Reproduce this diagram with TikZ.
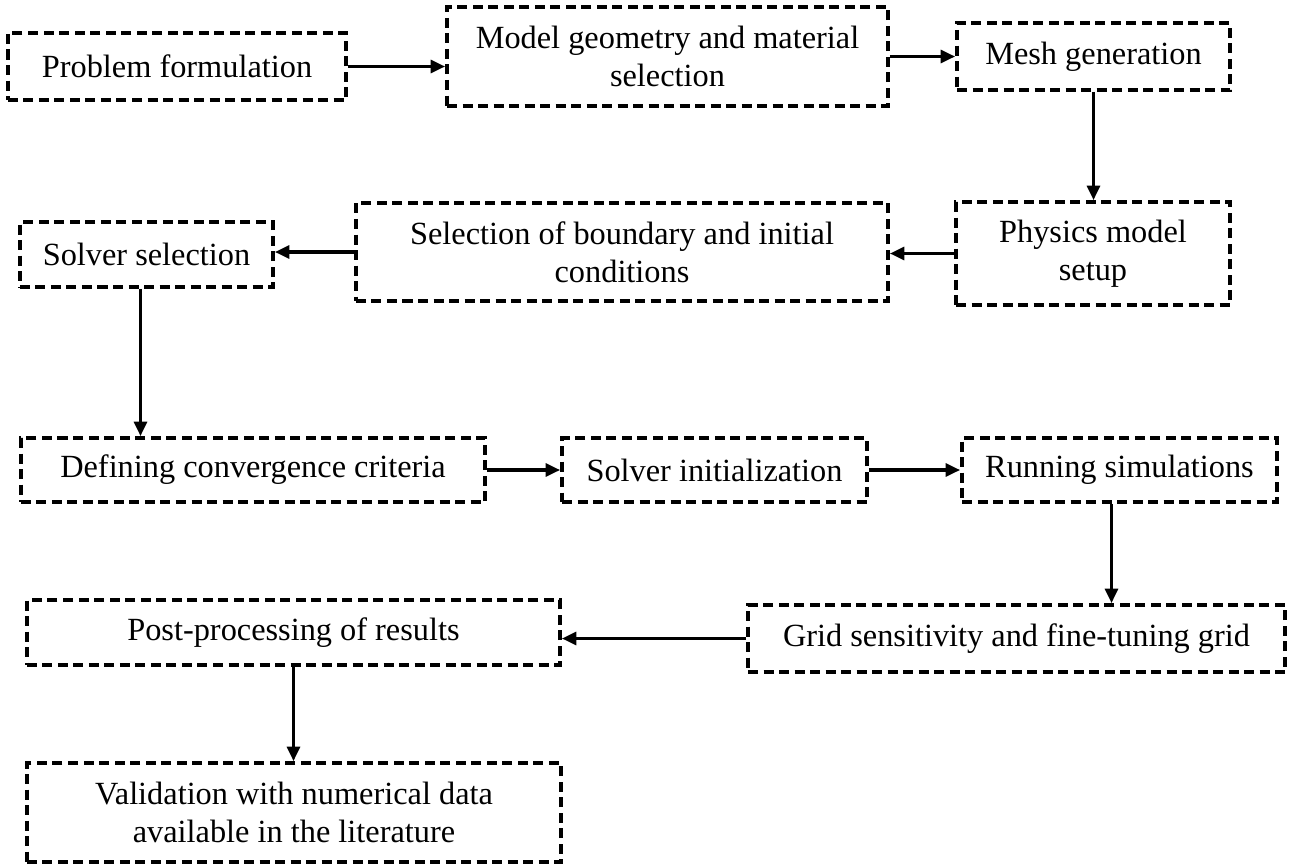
\documentclass[tikz,border=0pt]{standalone}
\usepackage{fontspec}
\setmainfont{Liberation Serif}
\usetikzlibrary{arrows.meta}

\tikzset{
  stepbox/.style={draw, line width=2.2pt, dash pattern=on 2mm off 1.1mm,
    align=center, inner sep=0pt, font=\fontsize{18.4}{21.8}\selectfont},
  arr/.style={line width=1.8pt, -{Triangle[length=2.9mm,width=2.6mm]}}
}

\begin{document}
\begin{tikzpicture}[x=0.2mm,y=-0.2mm]
  \useasboundingbox (0,0) rectangle (1290,864);
  % Row 1
  \node[stepbox, minimum width=67.6mm, minimum height=13.4mm] (prob) at (177,66.5) {Problem formulation};
  \node[stepbox, minimum width=88.2mm, minimum height=19.8mm] (model) at (667.5,56.5) {Model geometry and material\\selection};
  \node[stepbox, minimum width=54.6mm, minimum height=13.4mm] (mesh) at (1093.5,56.5) {Mesh generation};
  % Row 2
  \node[stepbox, minimum width=54.8mm, minimum height=20.6mm] (phys) at (1093,253.5) {Physics model\\setup};
  \node[stepbox, minimum width=106.4mm, minimum height=19.6mm] (bound) at (622,252) {Selection of boundary and initial\\conditions};
  \node[stepbox, minimum width=50.6mm, minimum height=13mm] (solsel) at (146.5,254.5) {Solver selection};
  % Row 3
  \node[stepbox, minimum width=92.8mm, minimum height=12.8mm] (conv) at (253,470) {Defining convergence criteria};
  \node[stepbox, minimum width=61mm, minimum height=12.8mm] (init) at (714.5,470) {Solver initialization};
  \node[stepbox, minimum width=63mm, minimum height=12.8mm] (run) at (1119.5,470) {Running simulations};
  % Row 4
  \node[stepbox, minimum width=107.4mm, minimum height=13.4mm] (grid) at (1016.5,638.5) {Grid sensitivity and fine-tuning grid};
  \node[stepbox, minimum width=106.6mm, minimum height=13mm] (post) at (293.5,632.5) {Post-processing of results};
  % Row 5
  \node[stepbox, minimum width=106.8mm, minimum height=19.8mm] (valid) at (294,812.5) {Validation with numerical data\\available in the literature};
  % Connectors
  \draw[arr] (prob.east) -- (prob.east -| model.west);
  \draw[arr] (model.east |- mesh.west) -- (mesh.west);
  \draw[arr] (mesh.south) -- (mesh.south |- phys.north);
  \draw[arr] (phys.west) -- (phys.west -| bound.east);
  \draw[arr] (bound.west) -- (bound.west -| solsel.east);
  \draw[arr] ([xshift=-1.2mm]solsel.south) -- ([xshift=-1.2mm]solsel.south |- conv.north);
  \draw[arr] (conv.east) -- (conv.east -| init.west);
  \draw[arr] (init.east) -- (init.east -| run.west);
  \draw[arr] ([xshift=-1.6mm]run.south) -- ([xshift=-1.6mm]run.south |- grid.north);
  \draw[arr] (grid.west) -- (grid.west -| post.east);
  \draw[arr] (post.south) -- (post.south |- valid.north);
\end{tikzpicture}
\end{document}
